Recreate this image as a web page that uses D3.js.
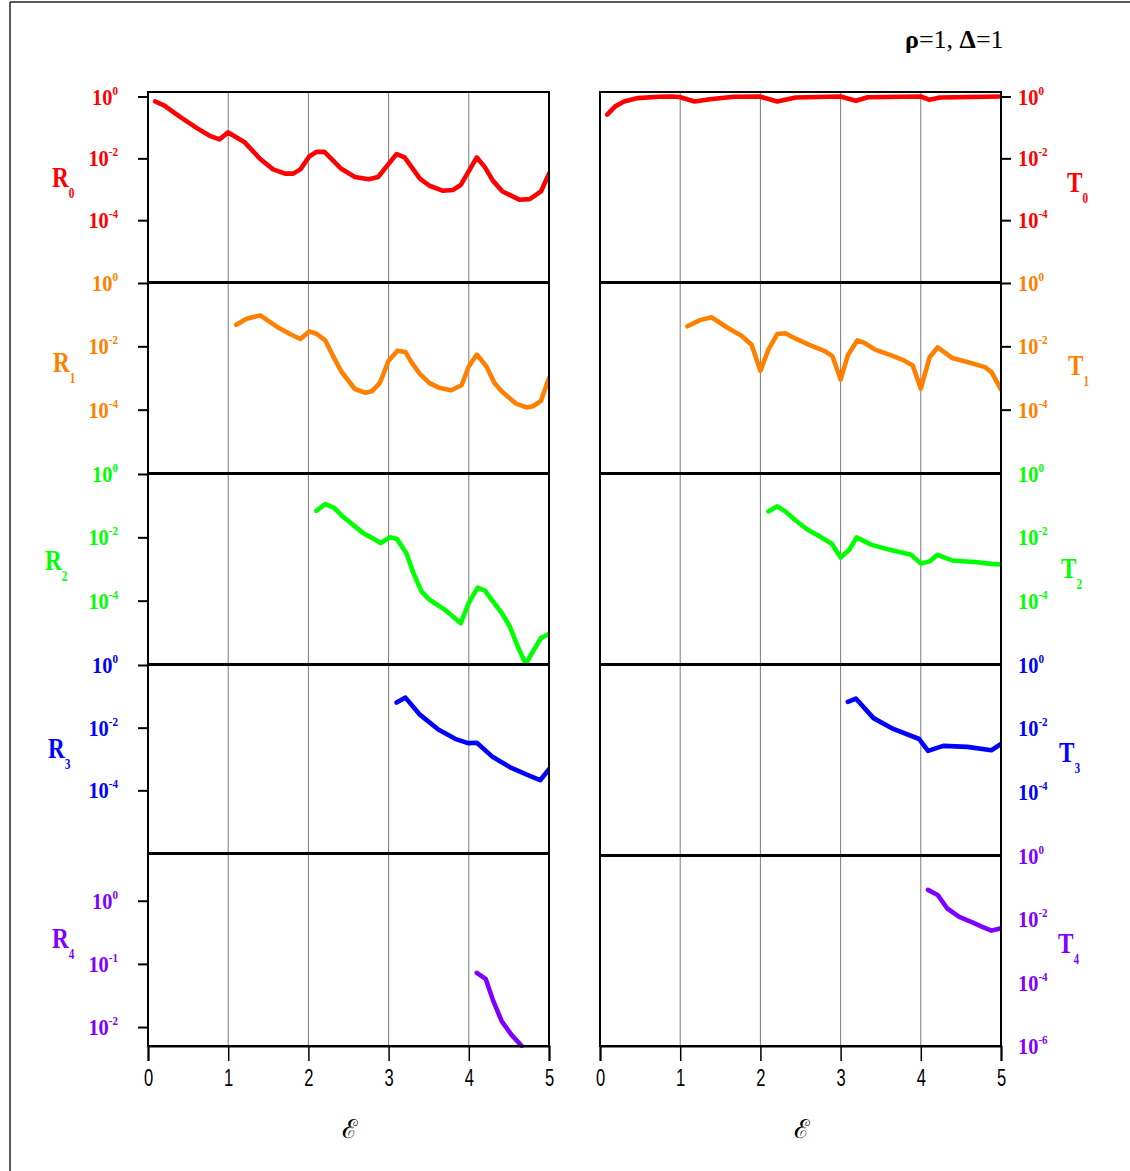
<!DOCTYPE html>
<html>
<head>
<meta charset="utf-8">
<script src="https://cdn.jsdelivr.net/npm/d3@7"></script>
<style>
body { margin: 0; background: #fff; }
svg { display: block; }
</style>
</head>
<body>
<svg id="chart" width="1130" height="1171"></svg>
<script>
// ---- data: epsilon (x) and values (log y) for each channel ----
var r0Eps = [0.09,0.2,0.4,0.61,0.78,0.89,1.0,1.2,1.4,1.56,1.71,1.81,1.9,2.01,2.1,2.2,2.29,2.41,2.58,2.75,2.87,3.0,3.1,3.2,3.39,3.51,3.68,3.8,3.9,4.1,4.2,4.3,4.42,4.63,4.76,4.9,5.0];
var r0Val = [0.69,0.52,0.22,0.095,0.052,0.041,0.069,0.034,0.0095,0.0044,0.0032,0.0032,0.0044,0.0115,0.0162,0.0162,0.0095,0.0046,0.0025,0.0021,0.0025,0.0066,0.0138,0.0107,0.0022,0.0013,0.00089,0.00095,0.00138,0.0107,0.0052,0.0019,0.00085,0.00046,0.00048,0.00085,0.0032];

var t0Eps = [0.09,0.19,0.3,0.47,0.73,0.9,0.99,1.18,1.37,1.67,1.99,2.21,2.44,3.0,3.19,3.34,4.0,4.11,4.24,5.0];
var t0Val = [0.26,0.48,0.69,0.89,0.98,1.0,0.96,0.69,0.82,0.98,1.0,0.69,0.93,1.0,0.73,0.95,1.0,0.78,0.93,1.0];

var r1Eps = [1.1,1.23,1.4,1.61,1.77,1.9,2.01,2.1,2.21,2.31,2.41,2.58,2.71,2.79,2.89,3.0,3.11,3.21,3.29,3.39,3.51,3.64,3.78,3.91,4.0,4.1,4.22,4.32,4.41,4.59,4.72,4.8,4.9,5.0];
var r1Val = [0.048,0.074,0.095,0.041,0.0245,0.017,0.0296,0.025,0.0155,0.0048,0.0016,0.00045,0.00034,0.00038,0.00069,0.0035,0.0073,0.0066,0.003,0.00135,0.00069,0.00048,0.00041,0.00059,0.0023,0.0055,0.0023,0.00069,0.00038,0.000155,0.000118,0.000128,0.00019,0.001];

var t1Eps = [1.09,1.24,1.39,1.61,1.76,1.89,2.0,2.1,2.21,2.31,2.44,2.61,2.81,2.9,3.0,3.09,3.21,3.3,3.43,3.64,3.79,3.9,4.0,4.11,4.21,4.39,4.58,4.8,4.88,5.0];
var t1Val = [0.043,0.066,0.083,0.036,0.022,0.0112,0.0017,0.0079,0.0245,0.026,0.0174,0.0112,0.0069,0.0048,0.00089,0.0052,0.0155,0.0128,0.0079,0.0051,0.0036,0.0025,0.00046,0.0045,0.0093,0.0043,0.0032,0.0022,0.00155,0.00043];

var r2Eps = [2.1,2.21,2.32,2.44,2.68,2.81,2.9,3.02,3.1,3.22,3.31,3.41,3.51,3.7,3.8,3.9,4.0,4.11,4.2,4.3,4.41,4.51,4.61,4.71,4.8,4.9,5.0];
var r2Val = [0.069,0.112,0.085,0.043,0.0138,0.0091,0.0066,0.01,0.0091,0.0032,0.00074,0.000196,0.000107,5.2e-5,3.2e-5,1.95e-5,8.5e-5,0.00026,0.00021,9.5e-5,4.1e-5,1.55e-5,3.6e-6,1.0e-6,2.5e-6,6.6e-6,8.9e-6];

var t2Eps = [2.1,2.21,2.31,2.44,2.59,2.72,2.89,3.0,3.11,3.2,3.38,3.6,3.88,4.0,4.11,4.21,4.39,4.67,4.88,5.0];
var t2Val = [0.066,0.095,0.066,0.034,0.0174,0.0115,0.0063,0.0023,0.0041,0.01,0.0059,0.0041,0.0028,0.00148,0.00174,0.0028,0.00186,0.00166,0.00145,0.00138];

var r3Eps = [3.1,3.21,3.39,3.62,3.83,3.99,4.1,4.3,4.53,4.76,4.89,5.0];
var r3Val = [0.063,0.091,0.026,0.0087,0.0044,0.0032,0.0033,0.00115,0.00052,0.00029,0.00021,0.00047];

var t3Eps = [3.09,3.19,3.41,3.64,3.98,4.09,4.28,4.58,4.88,5.0];
var t3Val = [0.068,0.087,0.021,0.01,0.0046,0.00195,0.0028,0.0026,0.00204,0.0032];

var r4Eps = [4.1,4.21,4.3,4.41,4.53,4.66];
var r4Val = [0.072,0.058,0.027,0.0124,0.0076,0.005];

var t4Eps = [4.09,4.21,4.33,4.48,4.65,4.76,4.88,5.0];
var t4Val = [0.085,0.059,0.022,0.012,0.0079,0.0059,0.0044,0.0052];

// tick exponents shown beside each panel
var rTickExp = [[0,-2,-4],[0,-2,-4],[0,-2,-4],[0,-2,-4],[0,-1,-2]];
var tTickExp = [[0,-2,-4],[0,-2,-4],[0,-2,-4],[0,-2,-4],[0,-2,-4,-6]];
var xTicks = [0,1,2,3,4,5];
var xGrid = [1,2,3,4];
var colors = ["#ff0000","#ff8000","#00ff00","#0000ff","#8000ff"];

var rSeries = [[r0Eps,r0Val],[r1Eps,r1Val],[r2Eps,r2Val],[r3Eps,r3Val],[r4Eps,r4Val]];
var tSeries = [[t0Eps,t0Val],[t1Eps,t1Val],[t2Eps,t2Val],[t3Eps,t3Val],[t4Eps,t4Val]];

// ---- layout ----
var svg = d3.select("#chart");
var serif = "'Liberation Serif','Times New Roman',serif";

// frame lines
svg.append("line").attr("x1",10).attr("y1",2).attr("x2",1130).attr("y2",2)
  .attr("stroke","#222").attr("stroke-width",1.5);
svg.append("line").attr("x1",10).attr("y1",2).attr("x2",10).attr("y2",1171)
  .attr("stroke","#222").attr("stroke-width",1.5);

var columns = [
  {x0: 148, x1: 549, series: rSeries, ticks: rTickExp, side: "left", name: "R",
   rows: [[92,282,[1e-6,1.4]],[283,473,[1e-6,1]],[474,664,[1e-6,1]],[665,853,[1e-6,1]],[854,1046,[Math.pow(10,-2.3),Math.pow(10,0.74)]]],
   lab: [[52,187],[53,372],[45,570],[48,758],[52,948]]},
  {x0: 600, x1: 1001, series: tSeries, ticks: tTickExp, side: "right", name: "T",
   rows: [[92,282,[1e-6,1.4]],[283,473,[1e-6,1]],[474,664,[1e-6,1]],[665,855,[1e-6,1]],[856,1046,[1e-6,1]]],
   lab: [[1067,192],[1068,375],[1061,578],[1059,762],[1058,953]]}
];

function powLabel(g, x, y, e, color, anchor) {
  var t = g.append("g").attr("transform","translate(" + x + "," + y + ") scale(0.85,1)")
    .append("text")
    .attr("text-anchor", anchor)
    .attr("font-family", serif)
    .attr("font-weight","bold")
    .attr("font-size", 24)
    .attr("fill", color);
  t.append("tspan").text("10");
  t.append("tspan").attr("font-size",13).attr("dy",-10).text(e);
}

columns.forEach(function(col, ci) {
  var x = d3.scaleLinear().domain([0,5]).range([col.x0, col.x1]);
  var g = svg.append("g");

  // vertical grid
  g.selectAll(".grid").data(xGrid).enter().append("line")
    .attr("x1", function(d){return x(d);}).attr("x2", function(d){return x(d);})
    .attr("y1", col.rows[0][0]).attr("y2", col.rows[4][1])
    .attr("stroke","#7a7a7a").attr("stroke-width",1);

  col.rows.forEach(function(r, i) {
    var y = d3.scaleLog().domain(r[2]).range([r[1], r[0]]);
    var color = colors[i];

    var clipId = "clip" + ci + i;
    svg.append("clipPath").attr("id", clipId).append("rect")
      .attr("x", col.x0).attr("y", r[0] - 2).attr("width", col.x1 - col.x0).attr("height", r[1] - r[0] + 4);

    var s = col.series[i];
    var pts = s[0].map(function(e, k){ return [e, s[1][k]]; });
    var line = d3.line().x(function(d){return x(d[0]);}).y(function(d){return y(d[1]);});
    g.append("path").datum(pts)
      .attr("clip-path","url(#" + clipId + ")")
      .attr("d", line)
      .attr("fill","none").attr("stroke", color)
      .attr("stroke-width",4.6).attr("stroke-linejoin","round").attr("stroke-linecap","round");

    var tv = col.ticks[i].map(function(e){ return Math.pow(10, e); });
    if (col.side === "left") {
      g.append("g").attr("transform","translate(" + col.x0 + ",0)")
        .call(d3.axisLeft(y).tickValues(tv).tickSize(10).tickFormat(""))
        .call(function(a){ a.select(".domain").remove(); a.selectAll("line").attr("stroke","#000").attr("stroke-width",2); });
      col.ticks[i].forEach(function(e){ powLabel(g, 118, y(Math.pow(10,e)) + 8, e, color, "end"); });
    } else {
      if (i < 2) {
        g.append("g").attr("transform","translate(" + col.x1 + ",0)")
          .call(d3.axisRight(y).tickValues(tv).tickSize(10).tickFormat(""))
          .call(function(a){ a.select(".domain").remove(); a.selectAll("line").attr("stroke","#000").attr("stroke-width",2); });
      }
      col.ticks[i].forEach(function(e){ powLabel(g, 1018, y(Math.pow(10,e)) + 8, e, color, "start"); });
    }

    // panel border
    g.append("rect").attr("x", col.x0).attr("y", r[0]).attr("width", col.x1 - col.x0).attr("height", r[1] - r[0])
      .attr("fill","none").attr("stroke","#000").attr("stroke-width",2);

    // channel label
    var lt = g.append("g").attr("transform","translate(" + col.lab[i][0] + "," + col.lab[i][1] + ") scale(0.8,1)")
      .append("text").attr("font-family", serif).attr("font-weight","bold")
      .attr("font-size",29).attr("fill", color);
    lt.append("tspan").text(col.name);
    lt.append("tspan").attr("font-size",14).attr("dy",11).text(i);
  });

  // bottom axis
  var ax = g.append("g").attr("transform","translate(0," + col.rows[4][1] + ")")
    .call(d3.axisBottom(x).tickValues(xTicks).tickSize(15).tickFormat(d3.format("d")));
  ax.select(".domain").attr("stroke","#000").attr("stroke-width",2);
  ax.selectAll("line").attr("stroke","#000").attr("stroke-width",1.5);
  ax.selectAll("text").attr("font-family","'Liberation Sans',Arial,sans-serif")
    .attr("font-size",23).attr("fill","#000").attr("y",24)
    .attr("transform","scale(0.72,1)")
    .attr("x", 0);

  svg.append("text").attr("x", (col.x0 + col.x1) / 2 + 1).attr("y", 1138)
    .attr("text-anchor","middle").attr("font-family","'DejaVu Serif',serif")
    .attr("font-size",26).attr("fill","#000").text("\u2130");
});

// title
var title = svg.append("text").attr("x", 905).attr("y", 48)
  .attr("font-family", serif).attr("font-size",26).attr("fill","#000");
title.append("tspan").attr("font-weight","bold").text("\u03c1");
title.append("tspan").text("=1, ");
title.append("tspan").attr("font-weight","bold").text("\u0394");
title.append("tspan").text("=1");
</script>
</body>
</html>
